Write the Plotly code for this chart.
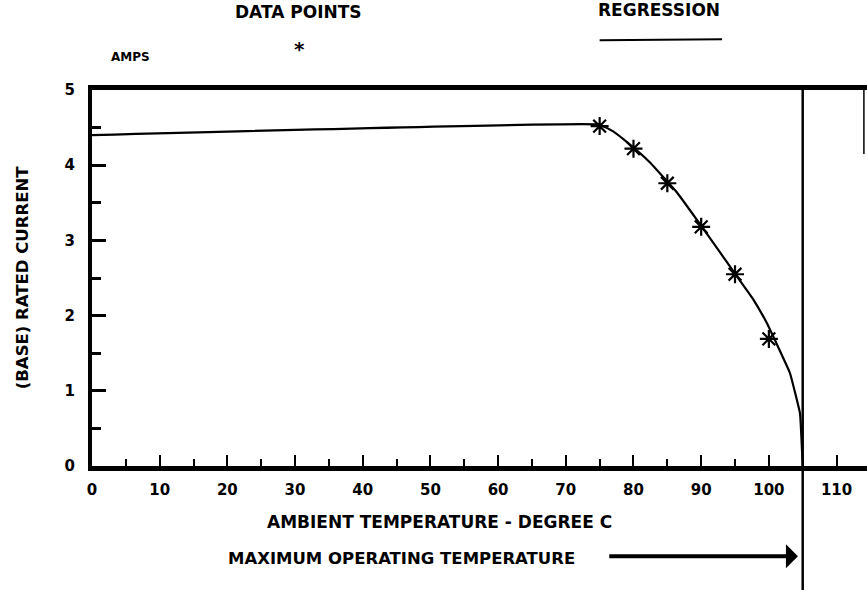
import plotly.graph_objects as go

# Data points (ambient temperature, rated current)
temp_pts = [75, 80, 85, 90, 95, 100]
amps_pts = [4.52, 4.22, 3.76, 3.18, 2.55, 1.69]

# Regression curve
reg_temp = [0, 75, 77, 79, 82.4, 86.4, 91.3, 95.7, 97.6, 99.7, 103.1, 104.6, 105]
reg_amps = [4.4, 4.54, 4.45, 4.31, 4.04, 3.64, 3.03, 2.47, 2.23, 1.90, 1.24, 0.70, 0]

max_temp = 105
x_ticks = [0, 10, 20, 30, 40, 50, 60, 70, 80, 90, 100, 110]
y_ticks = [0, 1, 2, 3, 4, 5]

FONT = "DejaVu Sans"

fig = go.Figure()
fig.add_trace(go.Scatter(x=reg_temp, y=reg_amps, mode="lines",
                         line=dict(color="black", width=2.2, shape="spline", smoothing=0.25),
                         showlegend=False, hoverinfo="skip"))
fig.add_trace(go.Scatter(x=temp_pts, y=amps_pts, mode="markers",
                         marker=dict(symbol="asterisk-open", size=15, color="black",
                                     line=dict(color="black", width=2.2)),
                         showlegend=False, cliponaxis=False))

fig.update_layout(
    width=867, height=590,
    margin=dict(l=92, r=0, t=90, b=124),
    paper_bgcolor="white", plot_bgcolor="white",
    font=dict(family=FONT, size=16, color="black", weight=700),
    showlegend=False,
    xaxis=dict(range=[0, 114.5], tickvals=x_ticks, ticks="inside", ticklen=11, tickwidth=2,
               tickcolor="black", showline=True, linewidth=5, linecolor="black", mirror=True,
               showgrid=False, zeroline=False, ticklabelstandoff=6,
               tickfont=dict(size=15, family=FONT, weight=700),
               minor=dict(ticks="inside", ticklen=7, tickwidth=2, dtick=5, tickcolor="black", showgrid=False)),
    yaxis=dict(range=[0, 5], tickvals=y_ticks, ticks="inside", ticklen=14, tickwidth=2.5,
               tickcolor="black", showline=True, linewidth=4, linecolor="black",
               showgrid=False, zeroline=False, ticklabelstandoff=10,
               tickfont=dict(size=15, family=FONT, weight=700),
               minor=dict(ticks="inside", ticklen=9, tickwidth=2.5, dtick=0.5, tickcolor="black", showgrid=False)),
)

# Maximum operating temperature vertical line
fig.add_shape(type="line", xref="x", yref="paper", x0=max_temp, x1=max_temp, y0=-0.34, y1=1,
              line=dict(color="black", width=2.5))
# small right-edge mark
fig.add_shape(type="line", xref="paper", yref="paper", x0=0.996, x1=0.996, y0=0.83, y1=1.01,
              line=dict(color="black", width=1.5))

def label(text, x, y, size, **kw):
    fig.add_annotation(text=text, xref="paper", yref="paper", x=x, y=y,
                       xanchor="center", yanchor="middle", showarrow=False,
                       font=dict(size=size), **kw)

# Legend-like header
label("DATA POINTS", 0.266, 1.207, 17)
label("*", 0.268, 1.11, 20)
label("REGRESSION", 0.731, 1.213, 17)
fig.add_shape(type="line", xref="paper", yref="paper", x0=0.655, x1=0.813, y0=1.132, y1=1.135,
              line=dict(color="black", width=2))
label("AMPS", 0.05, 1.087, 12)

# Axis titles
label("(BASE) RATED CURRENT", -0.09, 0.5, 16.5, textangle=-90)
label("AMBIENT TEMPERATURE - DEGREE C", 0.449, -0.149, 17)
label("MAXIMUM OPERATING TEMPERATURE", 0.399, -0.245, 16.5)

# Arrow pointing to the maximum operating temperature
fig.add_annotation(x=104.3, y=-0.24, xref="x", yref="paper",
                   ax=76.2, ay=0, axref="x", ayref="pixel",
                   text="", showarrow=True, arrowhead=1, arrowsize=1.0, arrowwidth=4,
                   arrowcolor="black")

fig.write_html("out.html", config={"displayModeBar": False},
               post_script="document.body.style.margin='0';")
